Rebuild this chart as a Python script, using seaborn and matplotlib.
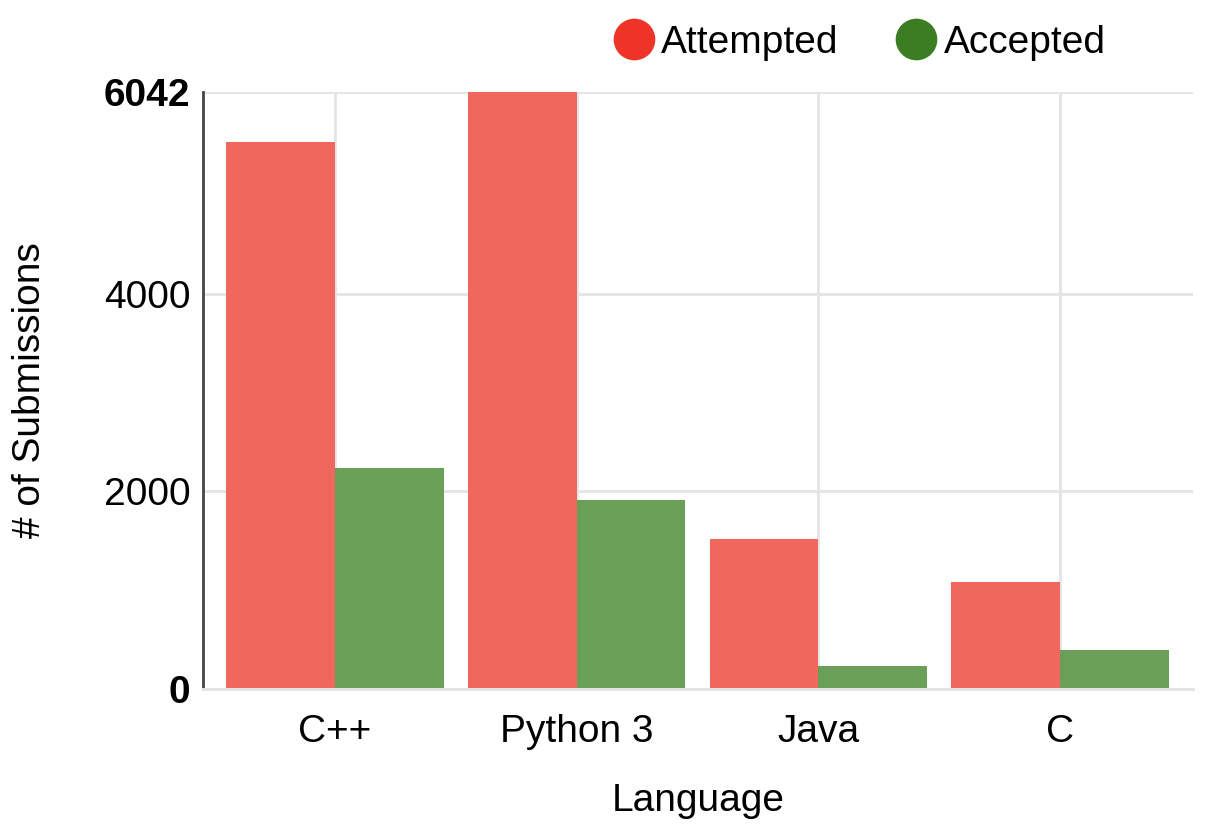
import pandas as pd
import seaborn as sns
import matplotlib.pyplot as plt
from matplotlib.lines import Line2D

languages = ['C++', 'Python 3', 'Java', 'C']
attempted = [5540, 6042, 1515, 1083]
accepted = [2237, 1913, 233, 390]
y_ticks = [0, 2000, 4000, 6042]

bar_colors = {'Attempted': '#f0675d', 'Accepted': '#6a9f58'}
legend_colors = {'Attempted': '#ee3427', 'Accepted': '#3a7d23'}

df = pd.DataFrame({
    'Language': languages * 2,
    'Submissions': attempted + accepted,
    'Status': ['Attempted'] * len(languages) + ['Accepted'] * len(languages),
})

sns.set_style('white')
plt.rcParams['font.family'] = ['Liberation Sans', 'DejaVu Sans']
plt.rcParams['text.color'] = 'black'
plt.rcParams['axes.labelcolor'] = 'black'
plt.rcParams['xtick.color'] = 'black'
plt.rcParams['ytick.color'] = 'black'

fig = plt.figure(figsize=(12.1, 8.4), dpi=100)
ax = fig.add_axes([0.1678, 0.1798, 0.8182, 0.7107])

sns.barplot(data=df, x='Language', y='Submissions', hue='Status',
            palette=bar_colors, width=0.9, gap=0, saturation=1,
            linewidth=0, legend=False, ax=ax)

ax.set_axisbelow(True)
ax.set_xlim(-0.545, 3.55)
ax.set_ylim(0, 6042)
ax.set_yticks(y_ticks)
ax.set_yticklabels([str(t) for t in y_ticks])
for lbl in ax.get_yticklabels():
    if lbl.get_text() in ('0', '6042'):
        lbl.set_fontweight('bold')

ax.grid(True, color='#e4e4e4', linewidth=2)
ax.tick_params(axis='both', length=0, labelsize=28)
ax.tick_params(axis='y', pad=9)
ax.tick_params(axis='x', pad=18)

for s in ('top', 'right'):
    ax.spines[s].set_visible(False)
ax.spines['left'].set_color('#444444')
ax.spines['left'].set_linewidth(2)
ax.spines['bottom'].set_color('#e3e3e3')
ax.spines['bottom'].set_linewidth(2.2)

ax.set_xlabel('Language', fontsize=28, labelpad=24)
ax.set_ylabel('# of Submissions', fontsize=28, labelpad=40)

# legend sits above the plot, circles as markers
handles = [Line2D([], [], marker='o', linestyle='none', markersize=30,
                  markerfacecolor=legend_colors[k], markeredgewidth=0, label=k)
           for k in ('Attempted', 'Accepted')]
fig.legend(handles=handles, loc='center', ncol=2, frameon=False, fontsize=28,
           bbox_to_anchor=(860 / 1210, 1 - 43 / 840), handletextpad=0.2,
           columnspacing=1.5, handlelength=1.0)

fig.savefig('out.png', dpi=100)
